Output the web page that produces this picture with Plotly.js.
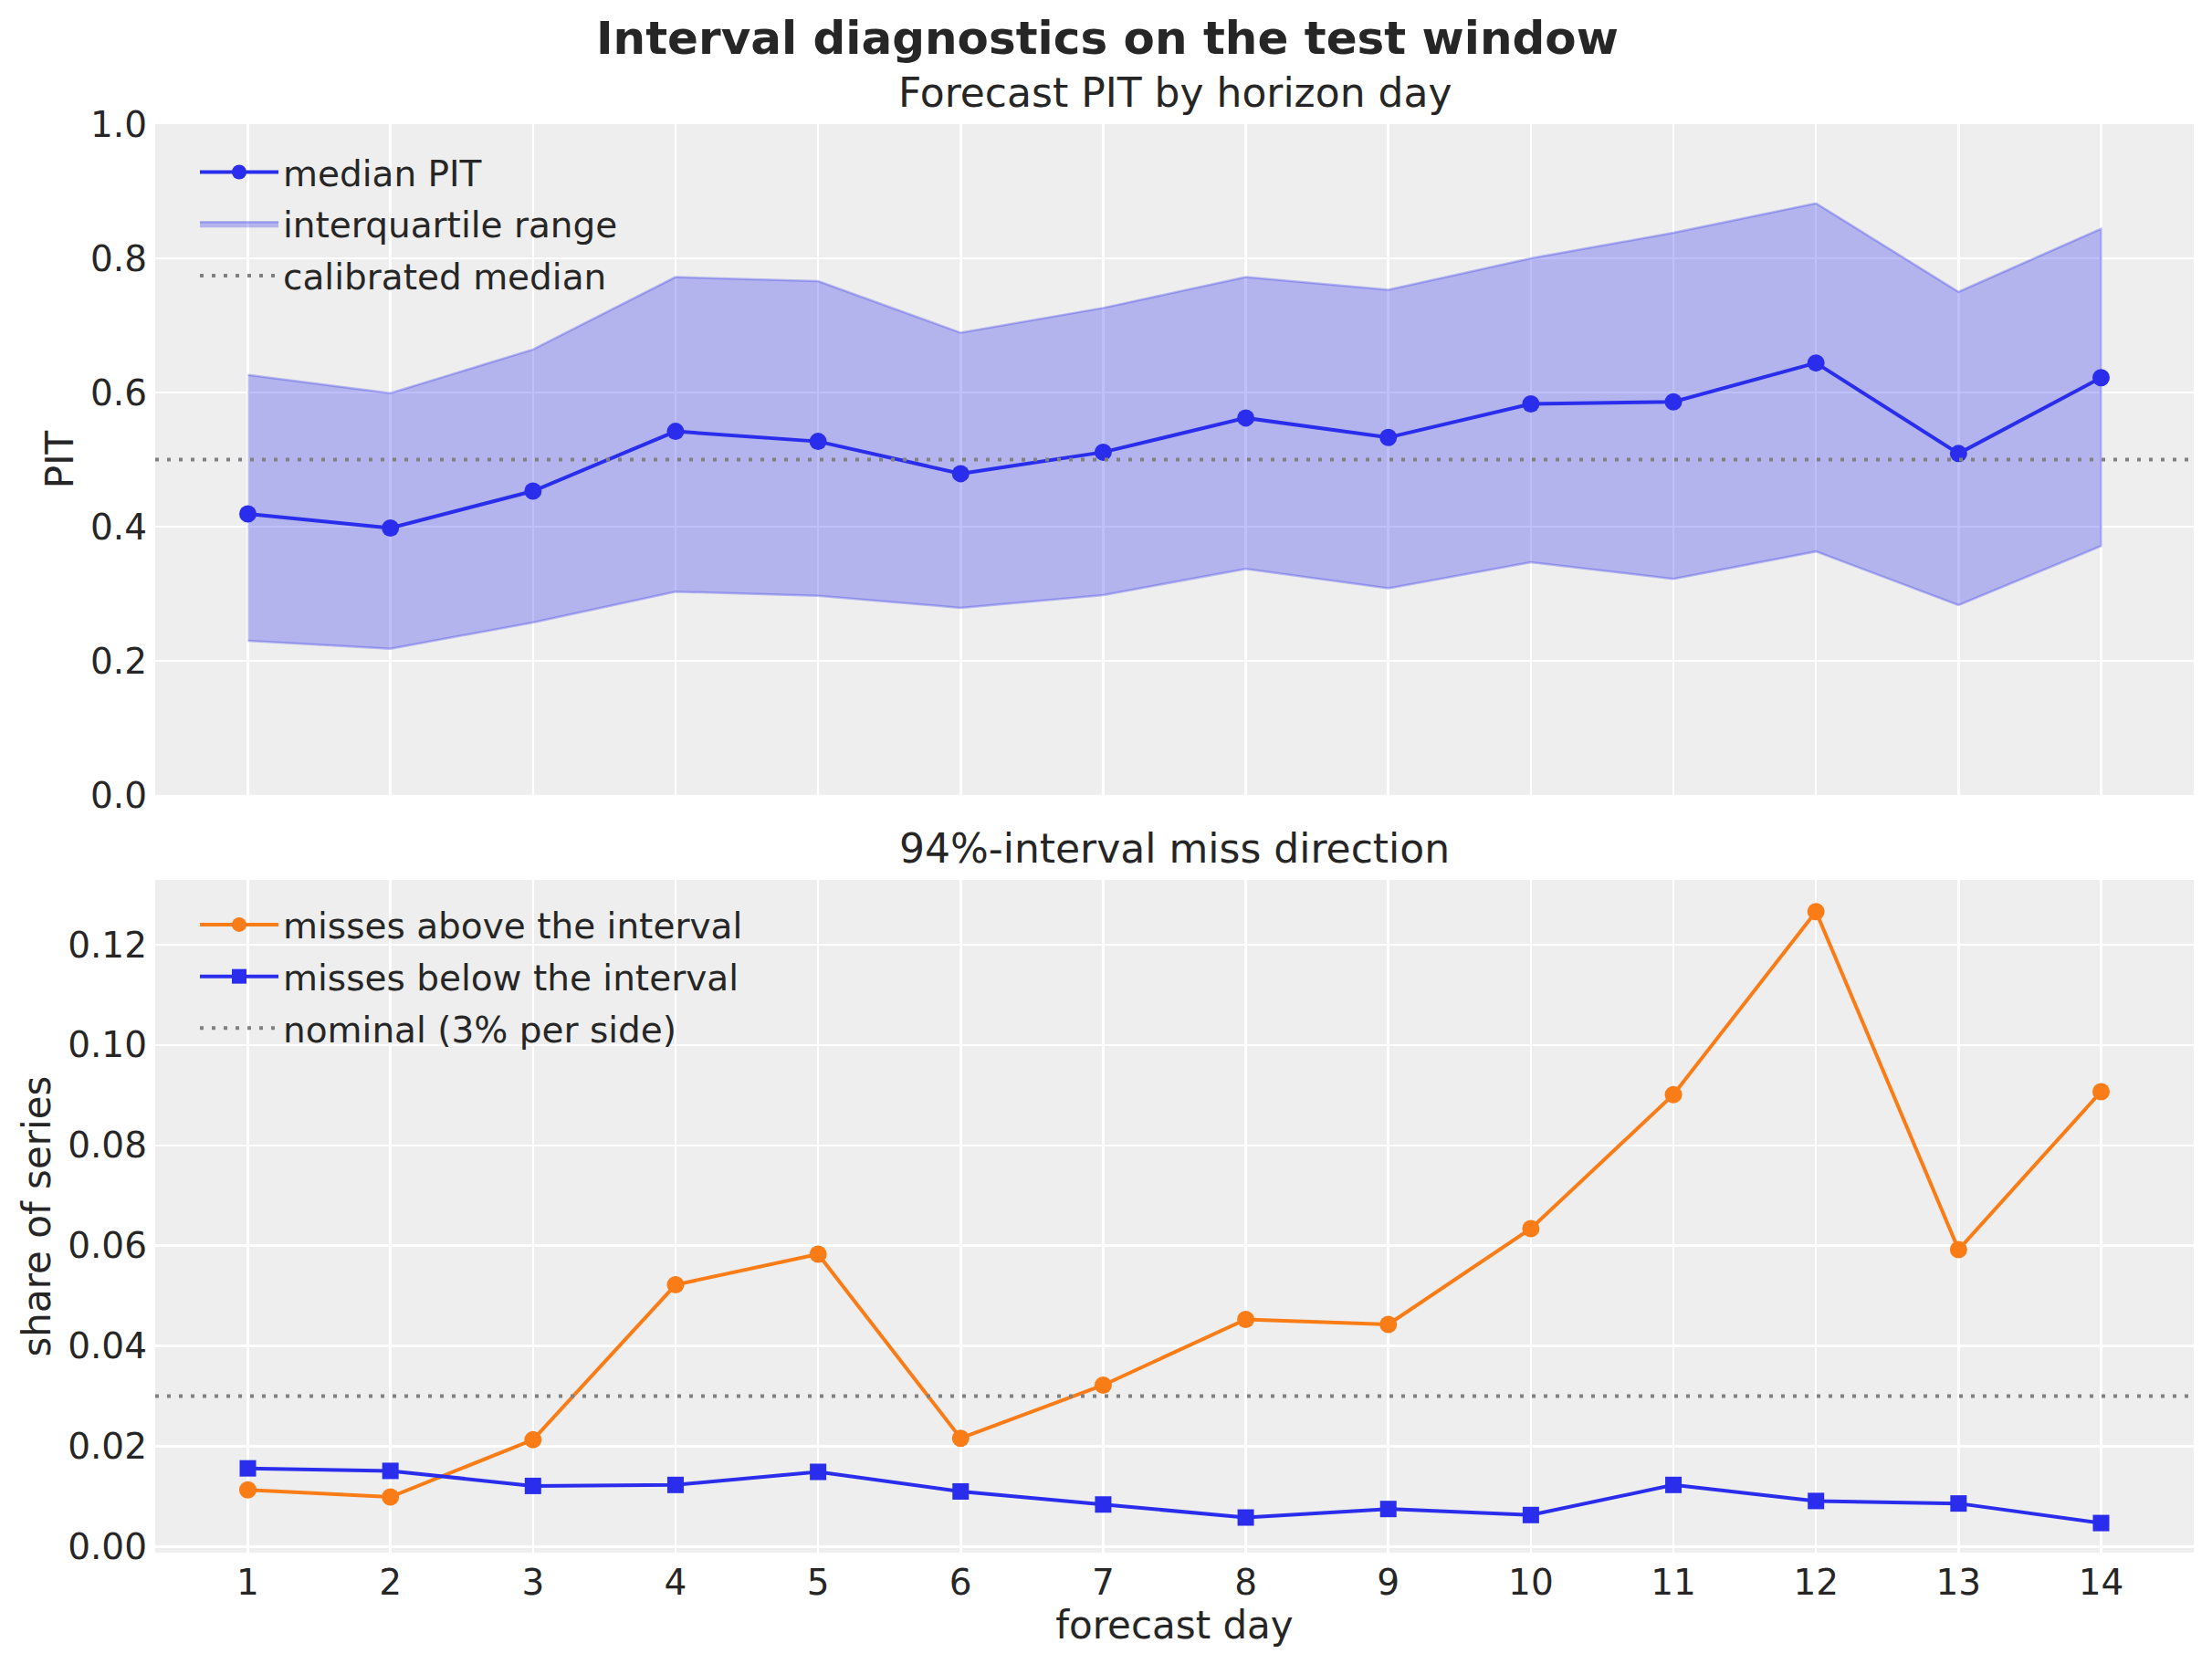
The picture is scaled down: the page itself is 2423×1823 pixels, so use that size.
<!DOCTYPE html>
<html>
<head>
<meta charset="utf-8">
<script src="https://cdn.plot.ly/plotly-3.0.1.min.js"></script>
<style>
  html, body { margin: 0; padding: 0; background: #ffffff; }
  #chart { width: 2423px; height: 1823px; }
</style>
</head>
<body>
<div id="chart"></div>
<script>
// forecast horizon (days ahead)
var days = [1, 2, 3, 4, 5, 6, 7, 8, 9, 10, 11, 12, 13, 14];

// PIT per horizon day: median and interquartile band
var pitMedian = [0.419, 0.398, 0.453, 0.542, 0.527, 0.479, 0.511, 0.562, 0.533, 0.583, 0.586, 0.644, 0.509, 0.622];
var pitUpper  = [0.626, 0.599, 0.664, 0.772, 0.766, 0.689, 0.726, 0.772, 0.753, 0.800, 0.838, 0.882, 0.750, 0.844];
var pitLower  = [0.230, 0.218, 0.257, 0.303, 0.297, 0.279, 0.298, 0.337, 0.308, 0.347, 0.322, 0.363, 0.283, 0.371];

// share of series falling outside the 94% interval
var missAbove = [0.0113, 0.0099, 0.0213, 0.0522, 0.0583, 0.0216, 0.0322, 0.0453, 0.0443, 0.0634, 0.0901, 0.1266, 0.0592, 0.0907];
var missBelow = [0.0156, 0.0151, 0.0121, 0.0123, 0.0149, 0.0110, 0.0084, 0.0058, 0.0075, 0.0063, 0.0123, 0.0091, 0.0086, 0.0047];

var calibratedMedian = 0.5;
var nominalMiss = 0.03;

var pitTicks = [0, 0.2, 0.4, 0.6, 0.8, 1.0];
var missTicks = [0, 0.02, 0.04, 0.06, 0.08, 0.10, 0.12];

var xRange = [0.35, 14.65];

var BLUE = '#2a2eec';
var ORANGE = '#fa7c17';
var BAND = 'rgba(42,46,236,0.3)';
var GREY = '#808080';
var TEXT = '#262626';
var FONT = 'DejaVu Sans';

// band polygon: upper edge left to right, lower edge back
var bandX = days.concat(days.slice().reverse());
var bandY = pitUpper.concat(pitLower.slice().reverse());

var traces = [
  {
    x: bandX, y: bandY,
    type: 'scatter', mode: 'lines',
    fill: 'toself', fillcolor: BAND,
    line: {color: BAND, width: 2.5},
    name: 'interquartile range',
    xaxis: 'x', yaxis: 'y',
    legend: 'legend', legendgroup: 'b', legendrank: 2
  },
  {
    x: days, y: pitMedian,
    type: 'scatter', mode: 'lines+markers',
    line: {color: BLUE, width: 4},
    marker: {color: BLUE, size: 19, symbol: 'circle'},
    name: 'median PIT',
    xaxis: 'x', yaxis: 'y',
    legend: 'legend', legendgroup: 'a', legendrank: 1
  },
  {
    x: xRange, y: [calibratedMedian, calibratedMedian],
    type: 'scatter', mode: 'lines',
    line: {color: GREY, width: 4, dash: '4px,9px'},
    name: 'calibrated median',
    xaxis: 'x', yaxis: 'y',
    legend: 'legend', legendgroup: 'c', legendrank: 3
  },
  {
    x: days, y: missAbove,
    type: 'scatter', mode: 'lines+markers',
    line: {color: ORANGE, width: 4},
    marker: {color: ORANGE, size: 19, symbol: 'circle'},
    name: 'misses above the interval',
    xaxis: 'x2', yaxis: 'y2',
    legend: 'legend2', legendgroup: 'd', legendrank: 1
  },
  {
    x: days, y: missBelow,
    type: 'scatter', mode: 'lines+markers',
    line: {color: BLUE, width: 4},
    marker: {color: BLUE, size: 18, symbol: 'square'},
    name: 'misses below the interval',
    xaxis: 'x2', yaxis: 'y2',
    legend: 'legend2', legendgroup: 'e', legendrank: 2
  },
  {
    x: xRange, y: [nominalMiss, nominalMiss],
    type: 'scatter', mode: 'lines',
    line: {color: GREY, width: 4, dash: '4px,9px'},
    name: 'nominal (3% per side)',
    xaxis: 'x2', yaxis: 'y2',
    legend: 'legend2', legendgroup: 'f', legendrank: 3
  }
];

var baseAxis = {
  showline: false,
  zeroline: false,
  gridcolor: '#ffffff',
  gridwidth: 2.5,
  ticks: '',
  tickfont: {family: FONT, size: 39, color: TEXT},
  automargin: false
};

function axis(extra) {
  var a = JSON.parse(JSON.stringify(baseAxis));
  for (var k in extra) a[k] = extra[k];
  return a;
}

var legendStyle = {
  font: {family: FONT, size: 39, color: TEXT},
  bgcolor: 'rgba(0,0,0,0)',
  borderwidth: 0,
  xanchor: 'left', yanchor: 'top',
  itemwidth: 86,
  tracegroupgap: 3,
  traceorder: 'grouped'
};

var layout = {
  width: 2423,
  height: 1823,
  margin: {l: 170, r: 20, t: 136, b: 122},
  paper_bgcolor: '#ffffff',
  plot_bgcolor: '#eeeeee',
  font: {family: FONT, color: TEXT},
  xaxis: axis({
    domain: [0, 1], anchor: 'y', range: xRange,
    tickvals: days, showticklabels: false
  }),
  yaxis: axis({
    domain: [0.5304, 1], anchor: 'x', range: [0, 1],
    tickvals: pitTicks, tickformat: '.1f', ticklabelstandoff: 8,
    title: {text: 'PIT', font: {family: FONT, size: 42, color: TEXT}, standoff: 5}
  }),
  xaxis2: axis({
    domain: [0, 1], anchor: 'y2', range: xRange,
    tickvals: days, ticklabelstandoff: 6,
    title: {text: 'forecast day', font: {family: FONT, size: 42, color: TEXT}, standoff: 10}
  }),
  yaxis2: axis({
    domain: [0, 0.4709], anchor: 'x2', range: [-0.0012, 0.1329],
    tickvals: missTicks, tickformat: '.2f', ticklabelstandoff: 8,
    title: {text: 'share of series', font: {family: FONT, size: 42, color: TEXT}, standoff: 5}
  }),
  legend: Object.assign({x: 0.0197, y: 0.9868}, legendStyle),
  legend2: Object.assign({x: 0.0197, y: 0.46}, legendStyle),
  annotations: [
    {
      text: '<b>Interval diagnostics on the test window</b>',
      xref: 'paper', yref: 'paper', x: 0.4671, y: 1.040,
      xanchor: 'center', yanchor: 'bottom', showarrow: false,
      font: {family: FONT, size: 50, color: TEXT}
    },
    {
      text: 'Forecast PIT by horizon day',
      xref: 'paper', yref: 'paper', x: 0.5, y: 1.0045,
      xanchor: 'center', yanchor: 'bottom', showarrow: false,
      font: {family: FONT, size: 44, color: TEXT}
    },
    {
      text: '94%-interval miss direction',
      xref: 'paper', yref: 'paper', x: 0.5, y: 0.4754,
      xanchor: 'center', yanchor: 'bottom', showarrow: false,
      font: {family: FONT, size: 44, color: TEXT}
    }
  ],
  showlegend: true
};

Plotly.newPlot('chart', traces, layout, {staticPlot: true});
</script>
</body>
</html>
